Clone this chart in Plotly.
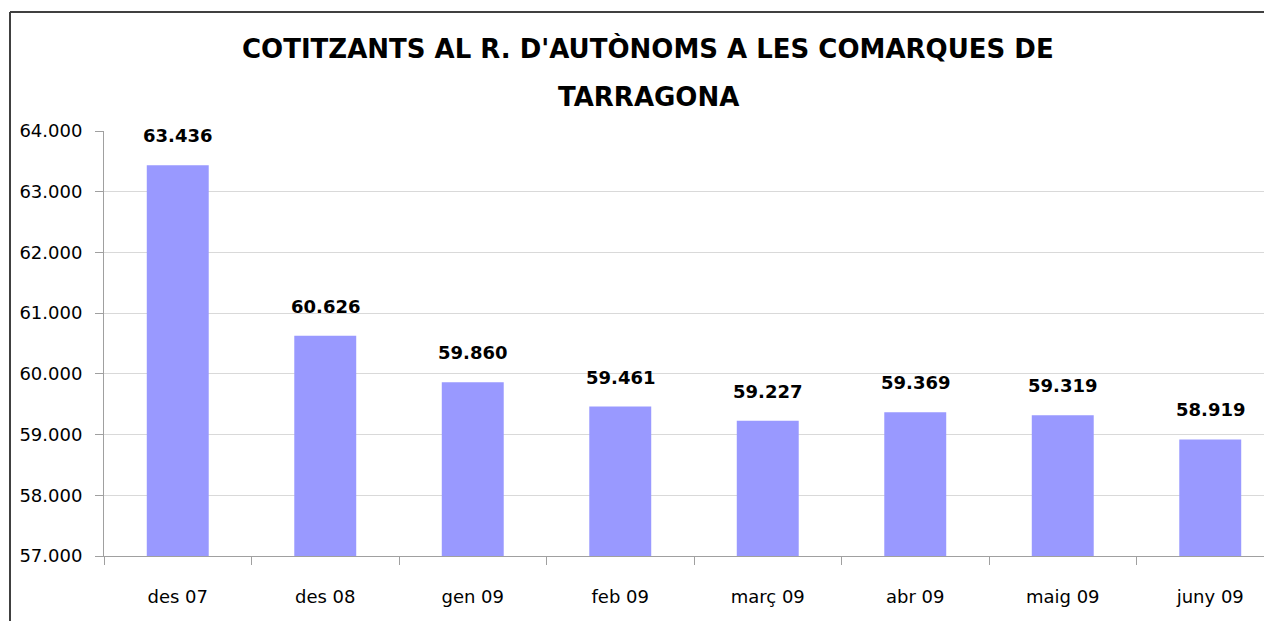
import plotly.graph_objects as go

categories = ["des 07", "des 08", "gen 09", "feb 09", "març 09", "abr 09", "maig 09", "juny 09"]
values = [63436, 60626, 59860, 59461, 59227, 59369, 59319, 58919]
y_ticks = [57000, 58000, 59000, 60000, 61000, 62000, 63000, 64000]
title_lines = ["COTITZANTS AL R. D'AUTÒNOMS A LES COMARQUES DE", "TARRAGONA"]

# page body has an 8px margin; work in page pixels and convert
OFF = 8
W, H = 1272 - OFF, 621 - OFF
L, R, T, B = 104 - OFF, 0, 131 - OFF, 621 - 556
pw, ph = W - L - R, H - T - B

def px_x(p):
    return (p - OFF - L) / pw

def px_y(p):
    return (H - B - (p - OFF)) / ph

font = "DejaVu Sans"

fig = go.Figure(go.Bar(
    x=categories, y=values, marker=dict(color="#9999FF", line=dict(width=0)),
    width=0.42, hoverinfo="skip",
))

annotations = []
for c, v in zip(categories, values):
    annotations.append(dict(
        x=c, y=v, xref="x", yref="y", text="<b>" + f"{v:,}".replace(",", ".") + "</b>",
        showarrow=False, yanchor="bottom", yshift=17,
        font=dict(family=font, size=18, color="#000000"),
    ))
for i, line in enumerate(title_lines):
    annotations.append(dict(
        x=px_x(648), y=px_y(48 + 49 * i), xref="paper", yref="paper",
        text="<b>" + line + "</b>", showarrow=False, xanchor="center", yanchor="middle",
        font=dict(family=font, size=26, color="#000000"),
    ))

shapes = [
    dict(type="line", xref="paper", yref="paper", x0=px_x(10), x1=px_x(10),
         y0=px_y(12), y1=px_y(640), line=dict(color="#404040", width=2)),
    dict(type="line", xref="paper", yref="paper", x0=px_x(10), x1=px_x(1300),
         y0=px_y(12), y1=px_y(12), line=dict(color="#404040", width=2)),
]

fig.update_layout(
    width=W, height=H, margin=dict(l=L, r=R, t=T, b=B),
    paper_bgcolor="white", plot_bgcolor="white",
    separators=",.", showlegend=False,
    annotations=annotations, shapes=shapes,
    font=dict(family=font, size=18, color="#000000"),
)
fig.update_xaxes(
    range=[-0.5, 7.5 - 12 / 147.5], showgrid=False, showline=True, linecolor="#a0a0a0", linewidth=1,
    ticks="outside", tickson="boundaries", ticklen=8, tickcolor="#a0a0a0",
    ticklabelstandoff=24, tickfont=dict(family=font, size=18),
)
fig.update_yaxes(
    range=[57000, 64000], tickvals=y_ticks, tickformat=",.0f",
    showgrid=True, gridcolor="#d9d9d9", gridwidth=1,
    showline=True, linecolor="#a0a0a0", linewidth=1,
    ticks="outside", ticklen=8, tickcolor="#a0a0a0",
    ticklabelstandoff=9, tickfont=dict(family=font, size=18), zeroline=False,
)

fig.write_html("out.html")
